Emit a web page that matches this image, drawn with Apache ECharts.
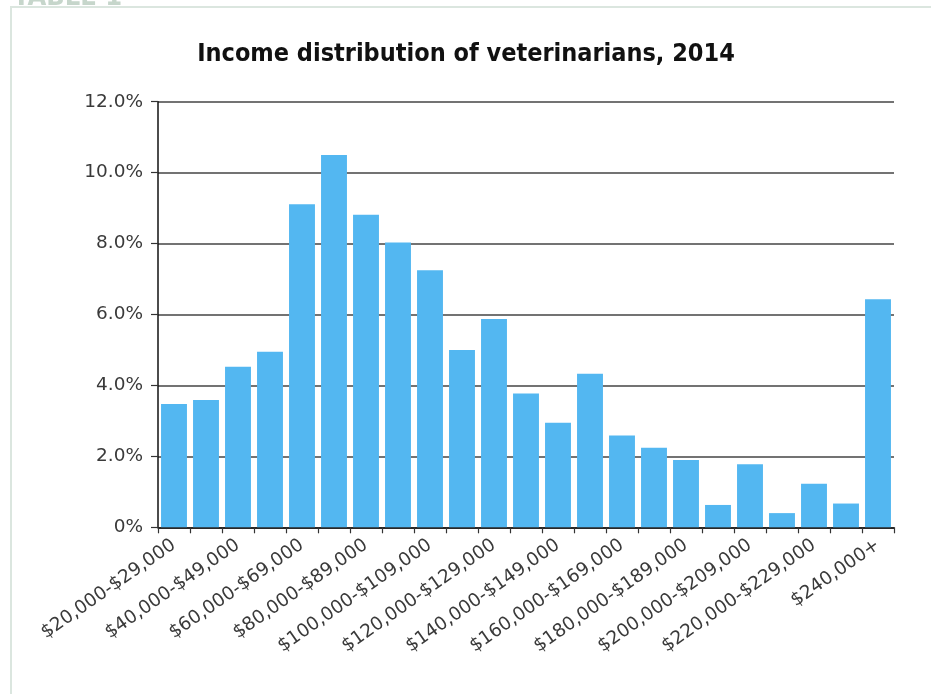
<!DOCTYPE html>
<html>
<head>
<meta charset="utf-8">
<script src="https://cdn.jsdelivr.net/npm/echarts@6/dist/echarts.min.js"></script>
<style>
html,body{margin:0;padding:0;background:#fff;}
#c{width:931px;height:694px;}
</style>
</head>
<body>
<div id="c"></div>
<script>
const categories = [
  '$20,000-$29,000','$30,000-$39,000','$40,000-$49,000','$50,000-$59,000',
  '$60,000-$69,000','$70,000-$79,000','$80,000-$89,000','$90,000-$99,000',
  '$100,000-$109,000','$110,000-$119,000','$120,000-$129,000','$130,000-$139,000',
  '$140,000-$149,000','$150,000-$159,000','$160,000-$169,000','$170,000-$179,000',
  '$180,000-$189,000','$190,000-$199,000','$200,000-$209,000','$210,000-$219,000',
  '$220,000-$229,000','$230,000-$239,000','$240,000+'
];
const shares = [3.48, 3.59, 4.53, 4.95, 9.11, 10.5, 8.81, 8.03, 7.25, 5.0, 5.87, 3.77, 2.95, 4.33, 2.59, 2.24, 1.9, 0.63, 1.78, 0.4, 1.23, 0.67, 6.43];
const yTicks = [0, 2, 4, 6, 8, 10, 12];

const chart = echarts.init(document.getElementById('c'), null, {renderer: 'canvas'});
chart.setOption({
  animation: false,
  backgroundColor: '#fff',
  title: {
    text: 'Income distribution of veterinarians, 2014',
    left: 461, top: 37, textAlign: 'center',
    textStyle: {fontFamily: '"DejaVu Sans Condensed", "Liberation Sans Narrow", "DejaVu Sans", sans-serif', fontWeight: 'bold', fontSize: 25, color: '#111'}
  },
  graphic: [
    {type: 'rect', shape: {x: 11, y: 7, width: 1000, height: 1000}, style: {fill: 'none', stroke: '#dbe6df', lineWidth: 2}, z: -1},
    {type: 'text', x: 13, y: -16, style: {text: 'TABLE 1', fill: '#c6d6cb', font: 'bold 27px "DejaVu Sans Condensed", "DejaVu Sans", sans-serif'}, z: -1}
  ],
  grid: {left: 158, right: 37, top: 101.7, bottom: 166.7, containLabel: false},
  xAxis: {
    type: 'category',
    data: categories,
    axisLine: {lineStyle: {color: '#111', width: 1.5}},
    axisTick: {show: true, interval: 0, length: 6, lineStyle: {color: '#333', width: 1.2}},
    axisLabel: {interval: 1, rotate: 35, margin: 16, fontFamily: '"DejaVu Sans", Verdana, sans-serif', fontSize: 18.5, color: '#3a3a3a'}
  },
  yAxis: {
    type: 'value', min: yTicks[0], max: yTicks[yTicks.length - 1], interval: 2,
    axisLine: {show: true, lineStyle: {color: '#111', width: 1.5}},
    axisTick: {show: true, length: 7, lineStyle: {color: '#333', width: 1.2}},
    splitLine: {lineStyle: {color: '#444', width: 1.6}},
    axisLabel: {
      margin: 15, fontFamily: '"DejaVu Sans", Verdana, sans-serif', fontSize: 18.5, color: '#3a3a3a',
      formatter: v => v === 0 ? '0%' : v.toFixed(1) + '%'
    }
  },
  series: [{
    type: 'bar',
    data: shares,
    barCategoryGap: '19%',
    itemStyle: {color: '#53b7f1'}
  }]
});
</script>
</body>
</html>
